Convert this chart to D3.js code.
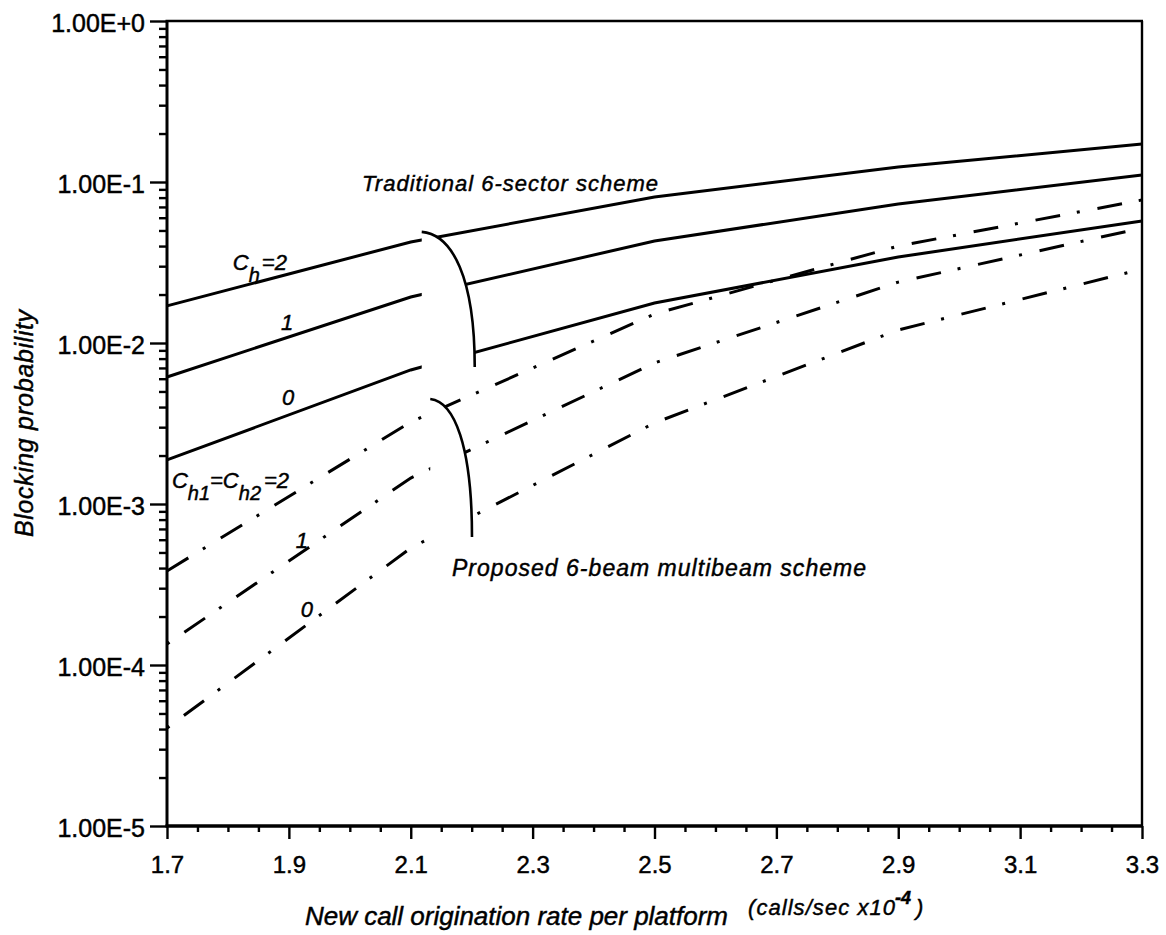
<!DOCTYPE html>
<html lang="en">
<head>
<meta charset="UTF-8">
<title>Blocking probability vs new call origination rate</title>
<script src="https://d3js.org/d3.v7.min.js"></script>
<style>
    body { margin: 0; background: #fff; }
    svg { display: block; font-family: "Liberation Sans", Arial, Helvetica, sans-serif; }
    svg text { stroke: #000; stroke-width: 0.45; }
    .frame { stroke: #000; fill: none; }
    .curve { fill: none; stroke: #000; stroke-width: 3; }
    .curve.proposed { stroke-dasharray: 25 17 3 18; }
    .bracket { fill: none; stroke: #000; stroke-width: 2.6; }
    .mask { fill: #fff; stroke: none; }
    .label { font-style: italic; fill: #000; }
</style>
</head>
<body>
<svg id="chart" width="1166" height="935"></svg>
<script>
// new call origination rate per platform (calls/sec x10^-4)
const rates = [1.7, 2.1, 2.5, 2.9, 3.3];

// traditional 6-sector scheme, Ch = 2, 1, 0
const trad2 = [0.0170, 0.0424, 0.0807, 0.124, 0.172];
const trad1 = [0.00615, 0.0193, 0.0430, 0.0730, 0.1105];
const trad0 = [0.00188, 0.00680, 0.0177, 0.0342, 0.0573];

// proposed 6-beam multibeam scheme, Ch1 = Ch2 = 2, 1, 0
const prop2 = [3.84e-4, 3.23e-3, 0.01514, 0.0400, 0.0773];
const prop1 = [1.35e-4, 1.45e-3, 7.52e-3, 0.0239, 0.0518];
const prop0 = [4.06e-5, 5.33e-4, 3.19e-3, 0.01205, 0.0288];

// axis ticks
const xMajor = [1.7, 1.9, 2.1, 2.3, 2.5, 2.7, 2.9, 3.1, 3.3];
const yMajor = [1, 1e-1, 1e-2, 1e-3, 1e-4, 1e-5];

// brackets that group the curves of each scheme
const brackets = [
    {x0: 2.118, x1: 2.205, top: 0.049, bottom: 0.0071},
    {x0: 2.132, x1: 2.2005, top: 0.00449, bottom: 6.24e-4}
];

const series = [
    {values: trad2, proposed: false, offset: 0},
    {values: trad1, proposed: false, offset: 0},
    {values: trad0, proposed: false, offset: 0},
    {values: prop2, proposed: true, offset: 0},
    {values: prop1, proposed: true, offset: 42},
    {values: prop0, proposed: true, offset: 42}
];

const svg = d3.select("#chart");
const plotLeft = 167, plotRight = 1142, plotTop = 21, plotBottom = 826;

const x = d3.scaleLinear().domain([1.7, 3.3]).range([plotLeft, plotRight]);
const y = d3.scaleLog().domain([1e-5, 1]).range([plotBottom, plotTop]);

// curves
const line = d3.line()
    .x((d, i) => x(rates[i]))
    .y(d => y(d));

svg.append("g").selectAll("path")
    .data(series)
    .enter().append("path")
    .attr("class", d => d.proposed ? "curve proposed" : "curve")
    .attr("stroke-dashoffset", d => d.offset)
    .attr("d", d => line(d.values));

// brackets: white gap in the curves, then the arc
brackets.forEach(b => {
    const x0 = x(b.x0), x1 = x(b.x1), yt = y(b.top), yb = y(b.bottom);
    const w = x1 - x0, h = yb - yt;
    const arc = `M${x0},${yt} C${x0 + 0.58 * w},${yt + 0.02 * h} ${x1},${yt + 0.34 * h} ${x1},${yb}`;
    svg.append("path").attr("class", "mask")
        .attr("d", `${arc} L${x1},${yb + 9} L${x0},${yb + 9} Z`);
    svg.append("path").attr("class", "bracket").attr("d", arc);
});

// curve labels
const labels = svg.append("g").attr("class", "label").attr("font-size", 22);

labels.append("text")
    .attr("x", x(2.020)).attr("y", y(0.0879))
    .attr("textLength", 296).attr("lengthAdjust", "spacing")
    .text("Traditional 6-sector scheme");

labels.append("text")
    .attr("x", x(2.1677)).attr("y", y(3.57e-4))
    .attr("font-size", 23)
    .attr("textLength", 414).attr("lengthAdjust", "spacing")
    .text("Proposed 6-beam multibeam scheme");

function subLabel(xv, yv, parts) {
    const t = labels.append("text").attr("x", x(xv)).attr("y", y(yv));
    parts.forEach(p => {
        t.append("tspan")
            .attr("dy", p.dy)
            .attr("dx", p.dx || 0)
            .attr("font-size", p.sub ? 20 : 22)
            .text(p.s);
    });
}

subLabel(1.808, 0.0284, [
    {s: "C", dy: 0}, {s: "h", dy: 12, sub: true}, {s: "=2", dy: -12, dx: 2}
]);
subLabel(1.708, 0.001257, [
    {s: "C", dy: 0}, {s: "h1", dy: 12, sub: true}, {s: "=C", dy: -12},
    {s: "h2", dy: 12, sub: true}, {s: "=2", dy: -12, dx: 3}
]);

const numLabels = [
    {x: 1.897, y: 0.01205, s: "1"},
    {x: 1.8986, y: 0.00412, s: "0"},
    {x: 1.9215, y: 5.33e-4, s: "1"},
    {x: 1.9297, y: 1.99e-4, s: "0"}
];
labels.selectAll("text.num")
    .data(numLabels)
    .enter().append("text")
    .attr("class", "num")
    .attr("text-anchor", "middle")
    .attr("x", d => x(d.x)).attr("y", d => y(d.y))
    .text(d => d.s);

// axes
const fmt = v => {
    const e = Math.round(Math.log10(v));
    return "1.00E" + (e === 0 ? "+0" : e);
};

const yMinor = [];
for (let e = -5; e < 0; e++) {
    for (let k = 2; k <= 9; k++) yMinor.push(k * Math.pow(10, e));
}

const yAxis = svg.append("g")
    .attr("transform", `translate(${plotLeft},0)`)
    .call(d3.axisLeft(y).tickValues(yMajor).tickFormat(fmt).tickSize(17).tickPadding(5));
yAxis.attr("font-size", 25).attr("font-family", null);
yAxis.selectAll("text").attr("dy", "0.42em");

svg.append("g")
    .attr("transform", `translate(${plotLeft},0)`)
    .call(d3.axisLeft(y).tickValues(yMinor).tickFormat("").tickSize(8));

const xMinor = d3.range(0, 33).filter(i => i % 4 !== 0).map(i => 1.7 + i * 0.05);

const xAxis = svg.append("g")
    .attr("transform", `translate(0,${plotBottom})`)
    .call(d3.axisBottom(x).tickValues(xMajor).tickFormat(d3.format(".1f")).tickSize(13).tickPadding(17));
xAxis.attr("font-size", 24).attr("font-family", null);

svg.append("g")
    .attr("transform", `translate(0,${plotBottom})`)
    .call(d3.axisBottom(x).tickValues(xMinor).tickFormat("").tickSize(6));

svg.selectAll(".domain").remove();
svg.selectAll(".tick line").attr("stroke-width", 2.4);

// frame
svg.append("line").attr("class", "frame").attr("stroke-width", 3)
    .attr("x1", plotLeft).attr("x2", plotLeft).attr("y1", plotTop).attr("y2", plotBottom);
svg.append("line").attr("class", "frame").attr("stroke-width", 3.4)
    .attr("x1", plotLeft - 1.5).attr("x2", plotRight + 1).attr("y1", plotBottom).attr("y2", plotBottom);
svg.append("line").attr("class", "frame").attr("stroke-width", 2.6)
    .attr("x1", plotLeft - 1.5).attr("x2", plotRight + 1).attr("y1", plotTop).attr("y2", plotTop);
svg.append("line").attr("class", "frame").attr("stroke-width", 2.4)
    .attr("x1", plotRight).attr("x2", plotRight).attr("y1", plotTop).attr("y2", plotBottom);

// axis titles
svg.append("text").attr("class", "label")
    .attr("transform", "translate(33,423.5) rotate(-90)")
    .attr("text-anchor", "middle")
    .attr("font-size", 25)
    .attr("textLength", 227).attr("lengthAdjust", "spacing")
    .text("Blocking probability");

svg.append("text").attr("class", "label")
    .attr("x", 305).attr("y", 925)
    .attr("font-size", 26)
    .attr("textLength", 423).attr("lengthAdjust", "spacing")
    .text("New call origination rate per platform");

svg.append("text").attr("class", "label")
    .attr("x", 748).attr("y", 915)
    .attr("font-size", 22)
    .attr("textLength", 147).attr("lengthAdjust", "spacing")
    .text("(calls/sec x10");
svg.append("text").attr("class", "label")
    .attr("x", 895).attr("y", 904)
    .attr("font-size", 18).attr("font-weight", "bold")
    .text("-4");
svg.append("text").attr("class", "label")
    .attr("x", 916).attr("y", 915)
    .attr("font-size", 22)
    .text(")");
</script>
</body>
</html>
